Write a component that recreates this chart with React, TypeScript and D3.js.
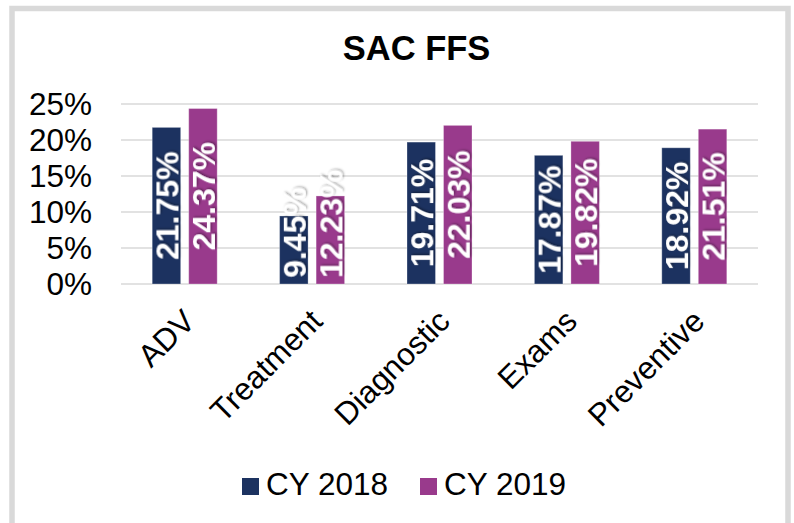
import React from "react";
import * as d3 from "d3";

const categories = ["ADV", "Treatment", "Diagnostic", "Exams", "Preventive"];
const seriesNames = ["CY 2018", "CY 2019"];
const values2018 = [21.75, 9.45, 19.71, 17.87, 18.92];
const values2019 = [24.37, 12.23, 22.03, 19.82, 21.51];
const yTicks = [0, 5, 10, 15, 20, 25];
const colors = ["#1c3260", "#993a8c"];

const W = 794;
const H = 523;
const plot = { left: 121, right: 758, top: 104, bottom: 284 };

const charW: Record<string, number> = { ".": 0.278, "%": 0.889 };
function textLen(s: string, fs: number) {
  let w = 0;
  for (const c of s) w += charW[c] ?? 0.556;
  return w * fs;
}

export default function App() {
  const x0 = d3.scaleBand<string>().domain(categories).range([plot.left, plot.right]).padding(0);
  const y = d3.scaleLinear().domain([0, 25]).range([plot.bottom, plot.top]);
  const groupW = 65;
  const x1 = d3.scaleBand<string>().domain(seriesNames).range([0, groupW]).paddingInner(0.22).paddingOuter(0);
  const data = [values2018, values2019];
  const labelFs = 32;
  const axisFs = 31.5;
  const font = "Liberation Sans, Arial, sans-serif";

  return (
    <svg width={W} height={H} style={{ position: "absolute", left: 0, top: 0 }} fontFamily={font}>
      <defs>
        <filter id="shadow" x="-30%" y="-30%" width="160%" height="160%">
          <feDropShadow dx="1.2" dy="1.2" stdDeviation="1.2" floodColor="#000" floodOpacity="0.4" />
        </filter>
      </defs>
      <rect x={0} y={0} width={W} height={H} fill="#fff" />
      <rect x={12} y={8.5} width={776} height={H + 20} fill="#fff" stroke="#d9d9d9" strokeWidth={5.5} />
      <text x={416.5} y={60} textAnchor="middle" fontSize={34.5} fontWeight="bold" fill="#000">SAC FFS</text>

      {yTicks.map((t) => (
        <g key={t}>
          <line x1={plot.left} x2={plot.right} y1={y(t)} y2={y(t)} stroke="#d9d9d9" strokeWidth={1.5} />
          <text x={92} y={y(t)} dy="0.36em" textAnchor="end" fontSize={axisFs} fill="#000">{t}%</text>
        </g>
      ))}

      {categories.map((c, i) => {
        const cx = x0(c)! + x0.bandwidth() / 2;
        const gx = cx - groupW / 2;
        return (
          <g key={c}>
            {seriesNames.map((s, j) => {
              const v = data[j][i];
              const bx = gx + x1(s)!;
              const bw = x1.bandwidth();
              const by = y(v);
              const lbl = v.toFixed(2) + "%";
              const len = textLen(lbl, labelFs);
              const mid = Math.min((by + plot.bottom) / 2, plot.bottom - 6 - len / 2);
              return (
                <g key={s}>
                  <rect x={bx} y={by} width={bw} height={plot.bottom - by} fill={colors[j]} stroke="rgba(255,255,255,0.3)" strokeWidth={1} />
                  <text
                    transform={`translate(${bx + bw / 2},${mid}) rotate(-90)`}
                    dy="0.36em"
                    textAnchor="middle"
                    fontSize={labelFs}
                    fontWeight="bold"
                    fill="#fff"
                    filter="url(#shadow)"
                  >
                    {lbl}
                  </text>
                </g>
              );
            })}
            <text
              transform={`translate(${cx - 4},${307}) rotate(-45)`}
              dy="0.72em"
              textAnchor="end"
              fontSize={axisFs}
              fill="#000"
            >
              {c}
            </text>
          </g>
        );
      })}

      <g>
        <rect x={242} y={478} width={17} height={17} fill={colors[0]} />
        <text x={266} y={495} fontSize={axisFs} fill="#000">{seriesNames[0]}</text>
        <rect x={420} y={478} width={17} height={17} fill={colors[1]} />
        <text x={444} y={495} fontSize={axisFs} fill="#000">{seriesNames[1]}</text>
      </g>
    </svg>
  );
}
